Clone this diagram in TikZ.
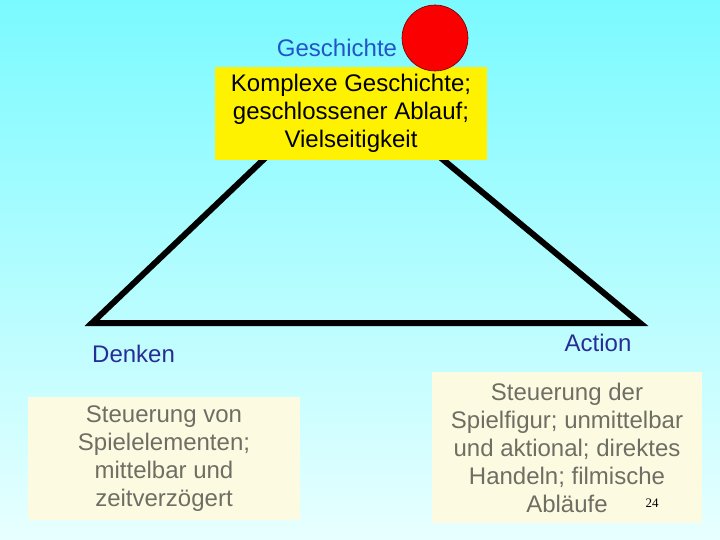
\documentclass[tikz,border=0pt]{standalone}
\usepackage{fontspec}
\setmainfont{Liberation Sans}
\newfontfamily\serifnum{Liberation Serif}
\definecolor{bgtop}{RGB}{122,250,255}
\definecolor{bgbot}{RGB}{232,255,255}
\definecolor{headblue}{RGB}{35,85,200}
\definecolor{darkblue}{RGB}{40,45,150}
\definecolor{cream}{RGB}{252,251,226}
\definecolor{graytext}{RGB}{110,110,100}
\definecolor{ballred}{RGB}{250,0,0}
\begin{document}
\begin{tikzpicture}[x=1pt,y=-1pt,
  bigfont/.style={font=\fontsize{24}{28}\selectfont},
  topbox/.style={fill=yellow, draw=none, minimum width=272pt, minimum height=93pt, align=center, inner sep=0pt, bigfont, text=black},
  infobox/.style={fill=cream, draw=none, align=center, inner sep=0pt, bigfont, text=graytext},
  cornerlabel/.style={bigfont, text=darkblue, inner sep=0pt},
  edge/.style={line width=6pt, line join=miter, black}]
\useasboundingbox (0,0) rectangle (720,540);
\shade[top color=bgtop, bottom color=bgbot] (0,0) rectangle (720,540);

\coordinate (apex) at (347,80);
\coordinate (bl) at (92,323);
\coordinate (br) at (640,323);
\draw[edge] (apex) -- (bl) -- (br) -- cycle;

\node[topbox] (story) at (351,113.5) {\fontsize{24}{27.5}\selectfont Komplexe Geschichte;\\geschlossener Ablauf;\\Vielseitigkeit};
\node[circle, fill=ballred, draw={rgb,255:red,110;green,0;blue,0}, line width=0.6pt, minimum size=66pt, inner sep=0pt] (ball) at (435,38) {};
\node[bigfont, text=headblue, inner sep=0pt] (geschichte) at (337,48) {Geschichte};

\node[cornerlabel, anchor=west] (denken) at (92,354) {Denken};
\node[cornerlabel] (action) at (598,343) {Action};

\node[infobox, minimum width=272pt, minimum height=123pt] (left) at (164,458.5) {\fontsize{24}{29}\selectfont Steuerung von\\Spielelementen;\\mittelbar und\\zeitverzögert};
\node[infobox, minimum width=270pt, minimum height=151pt] (right) at (567,447.5) {\fontsize{24}{28.8}\selectfont Steuerung der\\Spielfigur; unmittelbar\\und aktional; direktes\\Handeln; filmische\\Abläufe};
\node[font=\serifnum\fontsize{13}{14}\selectfont, text=black, inner sep=0pt] (pagenum) at (652,503) {24};
\end{tikzpicture}
\end{document}
